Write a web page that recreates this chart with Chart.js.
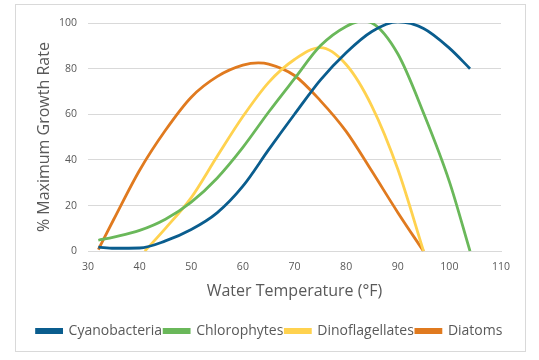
<!DOCTYPE html>
<html>
<head>
<meta charset="utf-8">
<script src="https://cdn.jsdelivr.net/npm/chart.js@4/dist/chart.umd.min.js"></script>
<style>
  body { margin: 0; background: #fff; }
  #wrap { width: 539px; height: 360px; position: relative; }
</style>
</head>
<body>
<div id="wrap"><canvas id="growthChart" width="539" height="360"></canvas></div>
<script>
  // values
  const cyanoTemp = [32, 35, 40, 45, 50, 55, 60, 65, 70, 75, 80, 85, 90, 95, 100, 104];
  const cyanoRate = [1.8, 1.3, 1.4, 4.5, 9.5, 16.8, 28.5, 44.5, 60, 75, 87, 96.3, 100.5, 97.6, 89, 80];

  const chloroTemp = [32, 35, 40, 45, 50, 55, 60, 65, 70, 75, 80, 83, 85, 90, 95, 100, 104];
  const chloroRate = [4.8, 6.2, 9.1, 14, 21.5, 32, 45.5, 61, 75.6, 90, 98.5, 100.8, 100, 86.5, 60.5, 30.5, 0];

  const dinoTemp = [41, 45, 50, 55, 60, 65, 70, 75, 80, 85, 90, 95];
  const dinoRate = [0, 10, 23.5, 41.5, 59, 74, 84, 89.2, 81.8, 63.5, 36, 0];

  const diatomTemp = [32, 35, 40, 45, 50, 55, 60, 63, 65, 70, 75, 80, 85, 90, 95];
  const diatomRate = [0.7, 14, 35.5, 53, 67.5, 76.5, 81.5, 82.5, 82, 77, 66, 52.5, 35, 17, 0];

  const seriesNames = ['Cyanobacteria', 'Chlorophytes', 'Dinoflagellates', 'Diatoms'];
  const seriesColors = ['#0a5d8e', '#6ab85a', '#ffd24f', '#e07a1f'];

  const xTicks = [30, 40, 50, 60, 70, 80, 90, 100, 110];
  const yTicks = [0, 20, 40, 60, 80, 100];

  function toPoints(temps, rates) {
    return temps.map((t, i) => ({ x: t, y: rates[i] }));
  }

  const allSeries = [
    toPoints(cyanoTemp, cyanoRate),
    toPoints(chloroTemp, chloroRate),
    toPoints(dinoTemp, dinoRate),
    toPoints(diatomTemp, diatomRate)
  ];

  // light grey frame round the whole chart, like the spreadsheet chart box
  const frame = {
    id: 'frame',
    beforeDraw(chart) {
      const c = chart.ctx;
      c.save();
      c.fillStyle = '#ffffff';
      c.fillRect(0, 0, chart.width, chart.height);
      c.strokeStyle = '#d9d9d9';
      c.lineWidth = 1;
      c.strokeRect(15.5, 4.5, 510, 347);
      c.restore();
    }
  };

  const textGrey = '#595959';
  const font = "'Open Sans', sans-serif";

  new Chart(document.getElementById('growthChart'), {
    type: 'line',
    data: {
      datasets: allSeries.map((pts, i) => ({
        label: seriesNames[i],
        data: pts,
        borderColor: seriesColors[i],
        backgroundColor: seriesColors[i],
        borderWidth: 2.8,
        pointRadius: 0,
        cubicInterpolationMode: 'monotone',
        fill: false
      }))
    },
    options: {
      responsive: false,
      animation: false,
      events: [],
      layout: { padding: { left: 15, right: 15, top: 23, bottom: 12 } },
      plugins: {
        legend: {
          position: 'bottom',
          labels: {
            boxWidth: 25,
            boxHeight: 3,
            padding: 2,
            color: textGrey,
            font: { family: font, size: 14 }
          }
        },
        tooltip: { enabled: false }
      },
      scales: {
        x: {
          type: 'linear',
          min: 30,
          max: 110,
          afterBuildTicks: axis => { axis.ticks = xTicks.map(v => ({ value: v })); },
          grid: { display: false },
          border: { display: true, color: '#d9d9d9' },
          ticks: { color: textGrey, font: { family: font, size: 10.5 }, padding: 2, maxRotation: 0 },
          title: {
            display: true,
            text: 'Water Temperature (°F)',
            color: textGrey,
            font: { family: font, size: 16 },
            padding: { top: 6, bottom: 21 }
          }
        },
        y: {
          min: 0,
          max: 100,
          afterBuildTicks: axis => { axis.ticks = yTicks.map(v => ({ value: v })); },
          afterFit: axis => { axis.width = 73; },
          grid: { color: '#d9d9d9', drawTicks: false },
          border: { display: false },
          ticks: { color: textGrey, font: { family: font, size: 10.5 }, padding: 11 },
          title: {
            display: true,
            text: '% Maximum Growth Rate',
            color: textGrey,
            font: { family: font, size: 16, lineHeight: 1 },
            padding: { top: 21, bottom: 0 }
          }
        },
        // empty right-hand axis, only keeps the plot clear of the right edge
        yRight: {
          position: 'right',
          afterFit: axis => { axis.width = 23; },
          grid: { display: false },
          border: { display: false },
          ticks: { display: false }
        }
      }
    },
    plugins: [frame]
  });
</script>
</body>
</html>
